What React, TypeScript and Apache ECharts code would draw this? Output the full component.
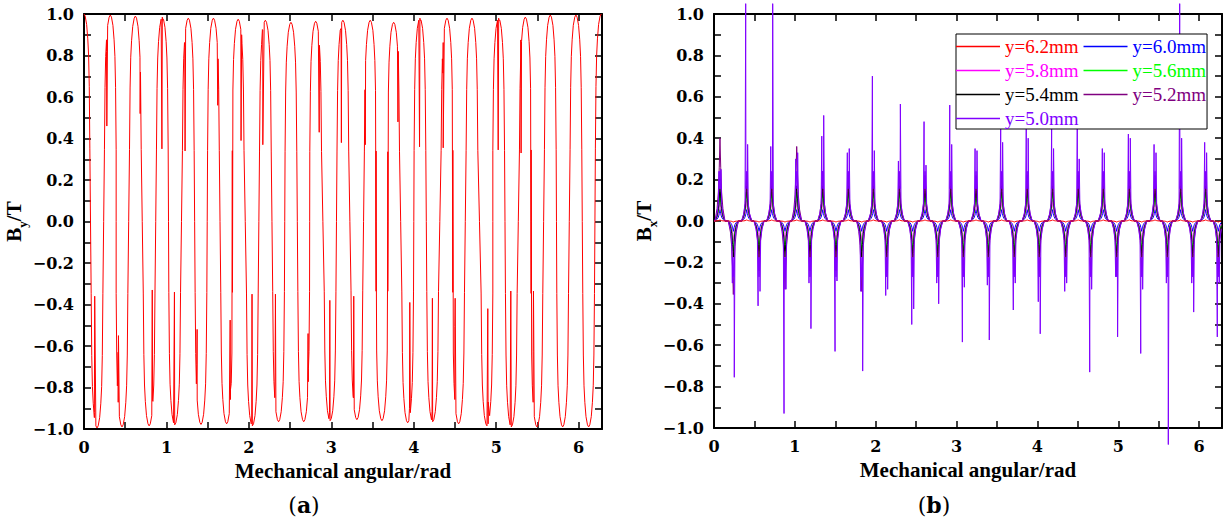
import React, { useEffect, useRef } from "react";
import * as echarts from "echarts";

const TWO_PI = 6.283185;

// ---------- Panel (a): By ----------
// positions (rad) and values (T) of the successive maxima / minima of the By waveform
const byExtremeX = [
  0.0, 0.158, 0.319, 0.461, 0.623, 0.79, 0.95, 1.1, 1.265, 1.419, 1.57, 1.73, 1.87, 2.042, 2.2,
  2.36, 2.51, 2.665, 2.81, 2.985, 3.14, 3.31, 3.472, 3.614, 3.756, 3.926, 4.075, 4.229, 4.403, 4.544,
  4.706, 4.888, 5.03, 5.183, 5.353, 5.494, 5.656, 5.806, 5.967, 6.121, 6.274,
];
const byExtremeY = [
  1.0, -0.995, 0.995, -0.99, 0.99, -0.985, 0.985, -0.98, 0.98, -0.978, 0.98, -0.975, 0.975, -0.985,
  0.97, -0.965, 0.96, -0.965, 0.965, -0.96, 0.97, -0.955, 0.97, -0.96, 0.96, -0.97, 0.98, -0.965,
  0.98, -0.975, 0.98, -0.985, 0.98, -0.99, 0.985, -0.99, 0.995, -0.99, 0.995, -0.99, 1.0,
];
// glitches: [x before jump, value before jump, x after jump, value after jump]
const byGlitches = [
  [0.126, -0.92, 0.13, -0.36],
  [0.273, 0.82, 0.277, 0.46],
  [0.414, -0.63, 0.418, -0.55],
  [0.681, 0.52, 0.685, 0.72],
  [0.828, -0.33, 0.832, -0.86],
  [0.945, 0.35, 0.951, 0.97],
  [1.094, -0.97, 1.097, -0.34],
  [1.222, 0.84, 1.226, 0.34],
  [1.368, -0.69, 1.372, -0.52],
  [1.622, 0.56, 1.626, 0.62],
  [1.773, -0.475, 1.777, -0.81],
  [1.905, 0.39, 1.912, 0.9],
  [2.034, -0.97, 2.038, -0.35],
  [2.164, 0.925, 2.169, 0.37],
  [2.318, -0.73, 2.322, -0.35],
  [2.718, -0.54, 2.722, -0.71],
  [2.853, 0.43, 2.857, 0.84],
  [2.978, -0.92, 2.982, -0.38],
  [3.118, 0.93, 3.122, 0.38],
  [3.268, -0.85, 3.272, -0.36],
  [3.408, 0.635, 3.412, 0.37],
  [3.808, 0.48, 3.812, 0.82],
  [3.948, -0.9, 3.952, -0.39],
  [4.07, 0.36, 4.076, 0.97],
  [4.222, -0.915, 4.226, -0.37],
  [4.353, 0.715, 4.357, 0.355],
  [4.498, -0.505, 4.502, -0.37],
  [4.898, -0.42, 4.902, -0.87],
  [5.024, 0.345, 5.031, 0.97],
  [5.172, -0.98, 5.177, -0.335],
  [5.298, 0.875, 5.302, 0.33],
  [5.448, -0.625, 5.452, -0.335],
];
// shape of one lobe around its extreme (offset in rad, fraction of the extreme value)
const domeOffsets = [0, 0.014, 0.032, 0.046, 0.056, 0.064, 0.071];
const domeFractions = [1, 0.99, 0.95, 0.88, 0.8, 0.65, 0.35];

// ---------- Panel (b): Bx ----------
const bxNames = ["y=6.2mm", "y=6.0mm", "y=5.8mm", "y=5.6mm", "y=5.4mm", "y=5.2mm", "y=5.0mm"];
const bxColors = ["#ff0000", "#0000ff", "#ff00ff", "#00ff00", "#000000", "#800080", "#8000ff"];
const bxPosAmp = [0.005, 0.055, 0.1, 0.14, 0.17, 0.21, 0.24];
const bxNegAmp = [-0.005, -0.05, -0.1, -0.145, -0.175, -0.23, -0.27];
const bxPosX = [
  0.074, 0.404, 0.714, 1.023, 1.345, 1.661, 1.971, 2.293, 2.61, 2.928, 3.241, 3.558, 3.874, 4.188,
  4.505, 4.815, 5.137, 5.455, 5.772, 6.081,
];
const bxNegX = [
  0.239, 0.557, 0.878, 1.187, 1.509, 1.827, 2.136, 2.458, 2.767, 3.084, 3.393, 3.714, 4.023, 4.35,
  4.659, 4.98, 5.29, 5.607, 5.921, 6.237,
];
const bumpOffsets = [-0.062, -0.036, -0.02, -0.009, 0, 0.009, 0.02, 0.036, 0.062];
const bumpFractions = [0, 0.15, 0.35, 0.65, 1, 0.65, 0.35, 0.15, 0];
// y=5.2mm peaks
const maroonPosPeak = [0.4, 0.22, 0.22, 0.36, 0.24, 0.22, 0.22, 0.22, 0.22, 0.22, 0.22, 0.22, 0.22, 0.22, 0.22, 0.22, 0.22, 0.22, 0.22, 0.22];
const maroonNegPeak = [-0.355, -0.24, -0.33, -0.24, -0.24, -0.34, -0.24, -0.24, -0.24, -0.24, -0.24, -0.24, -0.24, -0.24, -0.24, -0.24, -0.24, -0.24, -0.24, -0.24];
// y=5.0mm spikes (left of centre / right of centre)
const violetPosA = [0.24, 1.05, 0.36, 0.3, 0.41, 0.33, 0.7, 0.29, 0.48, 0.56, 0.35, 0.48, 0.45, 0.45, 0.45, 0.35, 0.42, 0.37, 1.05, 0.38];
const violetPosB = [0.25, 0.37, 1.05, 0.33, 0.51, 0.35, 0.34, 0.565, 0.27, 0.37, 0.34, 0.38, 0.4, 0.35, 0.3, 0.33, 0.4, 0.33, 0.4, 0.33];
const violetNegA = [-0.3, -0.41, -0.93, -0.3, -0.63, -0.34, -0.36, -0.5, -0.3, -0.585, -0.31, -0.43, -0.39, -0.34, -0.73, -0.27, -0.64, -0.3, -0.3, -0.56];
const violetNegB = [-0.755, -0.34, -0.33, -0.52, -0.29, -0.725, -0.33, -0.425, -0.4, -0.32, -0.575, -0.3, -0.545, -0.3, -0.33, -0.56, -0.33, -1.08, -0.44, -0.3];
const spikeOffset = 0.012;

const tickFont = { fontFamily: "DejaVu Serif", fontWeight: "bold" as const, fontSize: 16, color: "#000" };
const nameFont = "Liberation Serif";

function buildBy(): number[][] {
  const pts: number[][] = [];
  byExtremeX.forEach((cx, k) => {
    const a = byExtremeY[k];
    domeOffsets.forEach((o, j) => {
      pts.push([cx - o, a * domeFractions[j]]);
      if (o > 0) pts.push([cx + o, a * domeFractions[j]]);
    });
    if (k < byExtremeX.length - 1) pts.push([(cx + byExtremeX[k + 1]) / 2, 0]);
  });
  byGlitches.forEach((g) => {
    pts.push([g[0], g[1]]);
    pts.push([g[2], g[3]]);
  });
  return pts.filter((p) => p[0] >= 0 && p[0] <= TWO_PI).sort((p, q) => p[0] - q[0]);
}

function buildBx(i: number): number[][] {
  const pts: number[][] = [[0, 0]];
  bxPosX.forEach((c, k) => {
    const amp = i === 5 ? maroonPosPeak[k] : bxPosAmp[i];
    bumpOffsets.forEach((o, j) => pts.push([c + o, amp * bumpFractions[j]]));
    if (i === 6) {
      pts.push([c - spikeOffset, violetPosA[k]]);
      pts.push([c + spikeOffset, violetPosB[k]]);
    }
  });
  bxNegX.forEach((c, k) => {
    const amp = i === 5 ? maroonNegPeak[k] : bxNegAmp[i];
    bumpOffsets.forEach((o, j) => pts.push([c + o, amp * bumpFractions[j]]));
    if (i === 6) {
      pts.push([c - spikeOffset, violetNegA[k]]);
      pts.push([c + spikeOffset, violetNegB[k]]);
    }
  });
  return pts.filter((p) => p[0] >= 0 && p[0] <= TWO_PI).sort((p, q) => p[0] - q[0]);
}

const fmtY = (v: number) => {
  const r = Math.round(v * 10);
  if (Math.abs(r) % 2 !== 0) return "";
  const s = (r / 10).toFixed(1);
  return s.replace("-", "\u2212");
};
const fmtX = (v: number) => {
  const r = Math.round(v);
  return Math.abs(v - r) < 1e-6 ? String(r) : "";
};

function makeXAxis(gridIndex: number, top: boolean) {
  return {
    type: "value",
    gridIndex,
    position: top ? "top" : "bottom",
    min: 0,
    max: TWO_PI,
    interval: 0.5,
    axisLine: { show: true, onZero: false, lineStyle: { color: "#000", width: 2 } },
    axisTick: { show: true, inside: true, length: 7, lineStyle: { color: "#000", width: 1.5 } },
    axisLabel: top
      ? { show: false }
      : { show: true, margin: 10, formatter: fmtX, showMaxLabel: false, ...tickFont },
    splitLine: { show: false },
    name: top ? "" : "Mechanical angular/rad",
    nameLocation: "middle",
    nameGap: 31,
    nameTextStyle: { fontFamily: nameFont, fontWeight: "bold", fontSize: 21, color: "#000" },
  };
}

function makeYAxis(gridIndex: number, right: boolean, sub: string) {
  return {
    type: "value",
    gridIndex,
    position: right ? "right" : "left",
    min: -1,
    max: 1,
    interval: 0.1,
    axisLine: { show: true, onZero: false, lineStyle: { color: "#000", width: 2 } },
    axisTick: { show: true, inside: true, length: 7, lineStyle: { color: "#000", width: 1.5 } },
    axisLabel: right ? { show: false } : { show: true, margin: 10, formatter: fmtY, ...tickFont },
    splitLine: { show: false },
    name: right ? "" : `{b|B}{s|${sub}}{b|/T}`,
    nameLocation: "middle",
    nameRotate: 90,
    nameGap: 47,
    nameTextStyle: {
      rich: {
        b: { fontFamily: nameFont, fontWeight: "bold", fontSize: 21, color: "#000", verticalAlign: "bottom", lineHeight: 22, padding: [0, 0, 4, 0] },
        s: { fontFamily: nameFont, fontWeight: "bold", fontSize: 13, color: "#000", verticalAlign: "bottom", lineHeight: 14 },
      },
    },
  };
}

export default function App() {
  const ref = useRef<HTMLDivElement>(null);
  useEffect(() => {
    if (!ref.current) return;
    const chart = echarts.init(ref.current, undefined, { renderer: "svg" });
    const byData = buildBy();
    const bxOrder = [1, 2, 3, 4, 5, 6, 0];
    const option: any = {
      animation: false,
      backgroundColor: "#fff",
      grid: [
        { left: 84, top: 14, width: 518, height: 415 },
        { left: 714, top: 14, width: 508, height: 414 },
      ],
      xAxis: [makeXAxis(0, false), makeXAxis(0, true), makeXAxis(1, false), makeXAxis(1, true)],
      yAxis: [makeYAxis(0, false, "y"), makeYAxis(0, true, "y"), makeYAxis(1, false, "x"), makeYAxis(1, true, "x")],
      legend: {
        left: 956,
        top: 34,
        width: 255,
        orient: "horizontal",
        padding: [3, 1, 1, 0],
        itemGap: 5,
        itemWidth: 44,
        itemHeight: 1.5,
        icon: "rect",
        backgroundColor: "#fff",
        borderColor: "#000",
        borderWidth: 1,
        selectedMode: false,
        textStyle: { fontFamily: nameFont, fontSize: 19 },
        data: bxNames.map((n, i) => ({ name: n, textStyle: { color: bxColors[i] } })),
      },
      series: [
        {
          type: "line",
          name: "By",
          xAxisIndex: 0,
          yAxisIndex: 0,
          data: byData,
          symbol: "none",
          lineStyle: { color: "#ff0000", width: 1 },
          itemStyle: { color: "#ff0000" },
        },
        ...bxOrder.map((i) => ({
          type: "line",
          name: bxNames[i],
          xAxisIndex: 2,
          yAxisIndex: 2,
          data: buildBx(i),
          symbol: "none",
          clip: i !== 6,
          lineStyle: { color: bxColors[i], width: 1 },
          itemStyle: { color: bxColors[i] },
        })),
      ],
      graphic: [
        {
          type: "text",
          x: 304,
          y: 505,
          style: {
            text: "({b|a})",
            font: "22px 'DejaVu Serif'",
            fill: "#000",
            align: "center",
            verticalAlign: "middle",
            rich: { b: { fontFamily: "DejaVu Serif", fontWeight: "bold", fontSize: 22, fill: "#000" } },
          },
        },
        {
          type: "text",
          x: 934,
          y: 505,
          style: {
            text: "({b|b})",
            font: "22px 'DejaVu Serif'",
            fill: "#000",
            align: "center",
            verticalAlign: "middle",
            rich: { b: { fontFamily: "DejaVu Serif", fontWeight: "bold", fontSize: 22, fill: "#000" } },
          },
        },
      ],
    };
    chart.setOption(option);
    return () => chart.dispose();
  }, []);
  return <div ref={ref} style={{ position: "fixed", left: 0, top: 0, width: 1226, height: 522 }} />;
}
